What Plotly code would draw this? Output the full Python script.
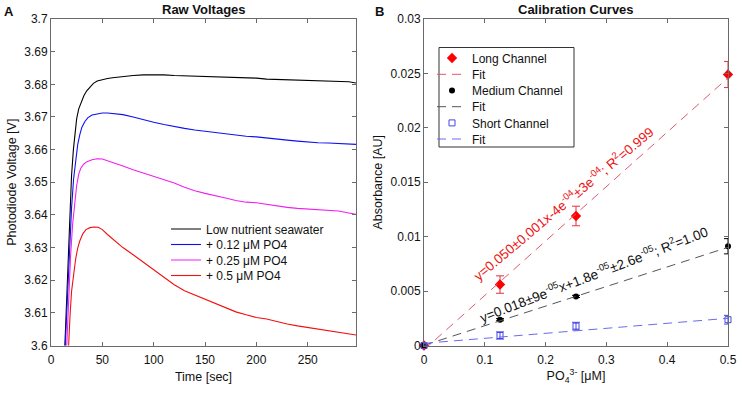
import plotly.graph_objects as go

# ---------------- Panel A data: raw photodiode voltages ----------------
t_sea = [12, 13.6, 15, 16.9, 18.5, 20, 21.8, 23.5, 25, 27, 29.9, 32, 34.8, 38, 41.3, 45, 50, 55, 60, 70, 80, 90,
         100, 110, 120, 130, 140, 150, 160, 170, 180, 190, 200, 210, 220, 230, 240, 250, 260, 270, 280, 290, 297]
v_sea = [3.588, 3.600, 3.613, 3.629, 3.642, 3.652, 3.660, 3.666, 3.6695, 3.6725, 3.675, 3.6765, 3.678, 3.679,
         3.6803, 3.681, 3.6815, 3.6818, 3.682, 3.6824, 3.6827, 3.6829, 3.683, 3.6829, 3.6827, 3.6826, 3.6826,
         3.6826, 3.6825, 3.6823, 3.6822, 3.6821, 3.6819, 3.6816, 3.6815, 3.6815, 3.6815, 3.6813, 3.6812, 3.6811,
         3.681, 3.6808, 3.6804]

t_012 = [12, 14, 16, 18, 20, 22, 24, 26, 28, 30, 33, 36, 40, 45, 50, 55, 60, 70, 80, 90, 100, 110, 120, 130,
         140, 150, 160, 170, 180, 190, 200, 210, 220, 230, 240, 250, 260, 270, 280, 290, 297]
v_012 = [3.587, 3.600, 3.616, 3.630, 3.642, 3.651, 3.657, 3.6615, 3.6645, 3.6668, 3.6686, 3.6698, 3.6706, 3.671,
         3.6712, 3.6712, 3.6711, 3.6707, 3.670, 3.6691, 3.6684, 3.6677, 3.667, 3.6665, 3.666, 3.6656, 3.6652,
         3.6649, 3.6645, 3.6641, 3.6639, 3.6635, 3.6632, 3.6629, 3.6626, 3.6623, 3.6621, 3.662, 3.6619, 3.6618,
         3.6616]

t_025 = [12, 15.3, 17, 19, 21, 23, 25, 27, 29, 32, 35, 40, 45, 50, 55, 60, 70, 80, 90, 100, 110, 120, 130, 140,
         150, 160, 170, 180, 190, 200, 210, 220, 230, 240, 250, 260, 270, 280, 290, 297]
v_025 = [3.575, 3.600, 3.615, 3.627, 3.637, 3.644, 3.649, 3.6525, 3.6543, 3.6556, 3.6563, 3.6569, 3.6572, 3.6571,
         3.6566, 3.656, 3.655, 3.6538, 3.6528, 3.652, 3.651, 3.6498, 3.6485, 3.6474, 3.6466, 3.646, 3.6452,
         3.6444, 3.6439, 3.6437, 3.6432, 3.6428, 3.6423, 3.642, 3.6418, 3.6416, 3.6415, 3.6412, 3.6406, 3.6402]

t_05 = [12, 16.9, 18.5, 20, 22, 24, 26, 28, 31, 34, 38, 42, 46, 50, 55, 60, 70, 80, 90, 100, 110, 120, 130, 140,
        150, 160, 170, 180, 190, 200, 210, 220, 230, 240, 250, 260, 270, 280, 290, 297]
v_05 = [3.565, 3.600, 3.609, 3.6165, 3.622, 3.6265, 3.6298, 3.632, 3.6342, 3.6355, 3.6361, 3.6363, 3.6362, 3.6355,
        3.634, 3.6327, 3.630, 3.6278, 3.6255, 3.6232, 3.6207, 3.6186, 3.6168, 3.6155, 3.6143, 3.613, 3.6115,
        3.6103, 3.6094, 3.6086, 3.6081, 3.6073, 3.6066, 3.606, 3.6055, 3.605, 3.6046, 3.6041, 3.6036, 3.6032]

raw_names = ["Low nutrient seawater", "+ 0.12 μM PO4", "+ 0.25 μM PO4", "+ 0.5 μM PO4"]
raw_colors = ["#000000", "#1010f0", "#f020f0", "#f01010"]

# ---------------- Panel B data: calibration curves ----------------
po4 = [0, 0.125, 0.25, 0.5]
abs_long = [0.0, 0.0056, 0.0119, 0.0249]
err_long = [0.0, 0.0008, 0.0009, 0.0012]
abs_med = [0.0, 0.00237, 0.00451, 0.00912]
err_med = [0.0, 0.0001, 0.0001, 0.0007]
abs_short = [0.0, 0.00092, 0.00178, 0.00237]
err_short = [0.0, 0.00033, 0.00035, 0.0004]

fit_slope = [0.050, 0.018, 0.0046]
fit_intercept = [-0.0004, 0.000018, 0.0002]
fit_x = [0, 0.5]

x_ticks_a = [0, 50, 100, 150, 200, 250]
y_ticks_a = [3.6, 3.61, 3.62, 3.63, 3.64, 3.65, 3.66, 3.67, 3.68, 3.69, 3.7]
y_ticklabels_a = ["3.6", "3.61", "3.62", "3.63", "3.64", "3.65", "3.66", "3.67", "3.68", "3.69", "3.7"]
x_ticks_b = [0, 0.1, 0.2, 0.3, 0.4, 0.5]
x_ticklabels_b = ["0", "0.1", "0.2", "0.3", "0.4", "0.5"]
y_ticks_b = [0, 0.005, 0.01, 0.015, 0.02, 0.025, 0.03]
y_ticklabels_b = ["0", "0.005", "0.01", "0.015", "0.02", "0.025", "0.03"]

W, H = 743, 394
FONT = "Liberation Sans, Arial, Helvetica, sans-serif"
AXC = "#6a6a6a"
TXT = "#111111"


def px(x):
    return x / W


def py(y):
    return 1 - y / H


fig = go.Figure()

# one legend per entry so row spacing can follow the reference
left_rows = [229, 244.5, 260, 275.5]
layout_legends = {}
for i, (t, v, n, c) in enumerate(zip([t_sea, t_012, t_025, t_05], [v_sea, v_012, v_025, v_05],
                                     raw_names, raw_colors)):
    key = "legend" if i == 0 else "legend%d" % (i + 1)
    fig.add_trace(go.Scatter(x=t, y=v, mode="lines", name=n, line=dict(color=c, width=1.1),
                             xaxis="x", yaxis="y", legend=key))
    layout_legends[key] = dict(x=px(166), y=py(left_rows[i]), xanchor="left", yanchor="middle",
                               bgcolor="rgba(255,255,255,0)", borderwidth=0, itemwidth=30,
                               font=dict(family=FONT, size=12, color=TXT))

right_rows = [58, 74.3, 90.5, 106.7, 122.9, 139]
series_b = [
    go.Scatter(x=po4, y=abs_long, mode="markers", name="Long Channel",
               marker=dict(symbol="diamond", color="#ff0000", size=8),
               error_y=dict(type="data", array=err_long, color="#e03040", thickness=1, width=4),
               cliponaxis=False),
    go.Scatter(x=fit_x, y=[fit_slope[0] * x + fit_intercept[0] for x in fit_x], mode="lines",
               name="Fit", line=dict(color="#dd5a70", width=1, dash="9px,6px")),
    go.Scatter(x=po4, y=abs_med, mode="markers", name="Medium Channel",
               marker=dict(symbol="circle", color="#000000", size=6),
               error_y=dict(type="data", array=err_med, color="#000000", thickness=1, width=4),
               cliponaxis=False),
    go.Scatter(x=fit_x, y=[fit_slope[1] * x + fit_intercept[1] for x in fit_x], mode="lines",
               name="Fit", line=dict(color="#555555", width=1, dash="9px,6px")),
    go.Scatter(x=po4, y=abs_short, mode="markers", name="Short Channel",
               marker=dict(symbol="square-open", color="#4646e0", size=6, line=dict(width=1)),
               error_y=dict(type="data", array=err_short, color="#4646e0", thickness=1, width=4),
               cliponaxis=False),
    go.Scatter(x=fit_x, y=[fit_slope[2] * x + fit_intercept[2] for x in fit_x], mode="lines",
               name="Fit", line=dict(color="#6a6af0", width=1, dash="9px,6px")),
]
for j, tr in enumerate(series_b):
    key = "legend%d" % (j + 5)
    tr.update(xaxis="x2", yaxis="y2", legend=key)
    fig.add_trace(tr)
    layout_legends[key] = dict(x=px(432), y=py(right_rows[j]), xanchor="left", yanchor="middle",
                               bgcolor="rgba(255,255,255,0)", borderwidth=0, itemwidth=30,
                               font=dict(family=FONT, size=12, color=TXT))

# frame of the right-hand legend
fig.add_shape(type="rect", xref="paper", yref="paper", x0=px(439), x1=px(574), y0=py(147), y1=py(47.5),
              line=dict(color="#333333", width=1), fillcolor="white", layer="below")

axis_common = dict(showline=True, linecolor=AXC, linewidth=1, mirror="ticks", ticks="inside", ticklen=4,
                   tickcolor=AXC, showgrid=False, zeroline=False, automargin=False,
                   tickfont=dict(family=FONT, size=12, color=TXT))
title_font = dict(family=FONT, size=12.5, color=TXT)

y_dom = [py(345.5), py(19)]

fig.update_layout(
    width=W, height=H, margin=dict(l=0, r=0, t=0, b=0, autoexpand=False), paper_bgcolor="white",
    plot_bgcolor="white",
    font=dict(family=FONT, size=12, color=TXT),
    xaxis=dict(domain=[px(51), px(356)], range=[0, 297], tickvals=x_ticks_a, ticklabelstandoff=3,
               title=dict(text="Time [sec]", font=title_font, standoff=6), anchor="y", **axis_common),
    yaxis=dict(domain=y_dom, range=[3.6, 3.7], tickvals=y_ticks_a, ticktext=y_ticklabels_a,
               title=dict(text="Photodiode Voltage [V]", font=title_font, standoff=4), anchor="x",
               **axis_common),
    xaxis2=dict(domain=[px(424), px(728)], range=[0, 0.5], tickvals=x_ticks_b, ticktext=x_ticklabels_b,
                ticklabelstandoff=3,
                title=dict(text="PO<sub>4</sub><sup>3-</sup> [μM]", font=title_font, standoff=5), anchor="y2",
                **axis_common),
    yaxis2=dict(domain=y_dom, range=[0, 0.03], tickvals=y_ticks_b, ticktext=y_ticklabels_b,
                title=dict(text="Absorbance [AU]", font=title_font, standoff=5), anchor="x2", **axis_common),
    showlegend=True,
    **layout_legends,
)

ann = [
    dict(text="<b>A</b>", x=px(9), y=py(11)),
    dict(text="<b>B</b>", x=px(379), y=py(11)),
    dict(text="<b>Raw Voltages</b>", x=px(203.5), y=py(10)),
    dict(text="<b>Calibration Curves</b>", x=px(576), y=py(10)),
]
for a in ann:
    fig.add_annotation(xref="paper", yref="paper", showarrow=False, xanchor="center", yanchor="middle",
                       font=dict(family=FONT, size=13, color=TXT), **a)

fig.add_annotation(xref="x2", yref="y2", x=0.229, y=0.0131, showarrow=False, textangle=-40,
                   text="y=0.050±0.001x-4e<sup>-04</sup>±3e<sup>-04</sup>; R<sup>2</sup>=0.999",
                   font=dict(family=FONT, size=13.5, color="#ee1111"))
fig.add_annotation(xref="x2", yref="y2", x=0.278, y=0.0066, showarrow=False, textangle=-21,
                   text="y=0.018±9e<sup>-05</sup>x+1.8e<sup>-05</sup>±2.6e<sup>-05</sup>; R<sup>2</sup>=1.00",
                   font=dict(family=FONT, size=13.5, color=TXT))

# the page body has a default 8px margin; remove it so the figure sits at the window origin
fig.write_html("out.html", config={"displayModeBar": False},
               post_script="document.body.style.margin='0px';")
